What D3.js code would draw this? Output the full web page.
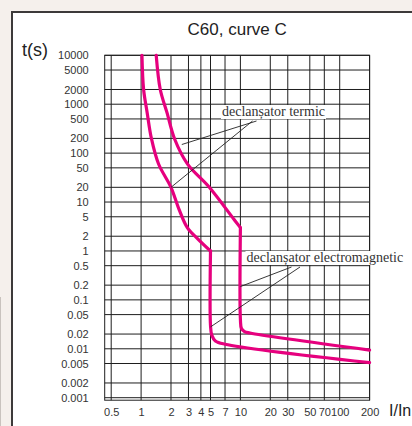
<!DOCTYPE html>
<html>
<head>
<meta charset="utf-8">
<script src="https://cdn.jsdelivr.net/npm/d3@7"></script>
<style>
html, body { margin: 0; padding: 0; background: #f5f0ec; }
svg { display: block; }
</style>
</head>
<body>
<svg width="412" height="426"></svg>
<script>
// axis ticks (grid lines) and their labels
var xTicks  = [0.5, 1, 2, 3, 4, 5, 7, 10, 20, 30, 50, 70, 100, 200];
var xLabels = ["0.5", "1", "2", "3", "4", "5", "7", "10", "20", "30", "50", "70", "100", "200"];
var yTicks  = [10000, 5000, 2000, 1000, 500, 200, 100, 50, 20, 10, 5, 2, 1,
               0.5, 0.2, 0.1, 0.05, 0.02, 0.01, 0.005, 0.002, 0.001];
var yLabels = ["10000", "5000", "2000", "1000", "500", "200", "100", "50", "20", "10", "5", "2", "1",
               "0.5", "0.2", "0.1", "0.05", "0.02", "0.01", "0.005", "0.002", "0.001"];

// tripping curves, [I/In, t(s)]
var lowThermal   = [[1.02, 10000], [1.06, 2000], [1.15, 680], [1.27, 200], [1.5, 60], [2, 20],
                    [2.41, 7.1], [2.92, 3], [3.76, 1.73], [5, 1]];
var lowMagnetic  = [[5, 1], [5, 0.03], [5.15, 0.019], [5.6, 0.0145], [7, 0.0124], [200, 0.0052]];
var highThermal  = [[1.42, 10000], [1.56, 2000], [1.82, 680], [2.18, 192], [2.95, 59],
                    [4.77, 21], [8.6, 4.45], [10, 3]];
var highMagnetic = [[10, 3], [10, 0.04], [10.25, 0.026], [11, 0.0225], [12.5, 0.021], [200, 0.0094]];

// annotations and the curve points their leaders point at
var noteTexts   = ["declanșator termic", "declanșator electromagnetic"];
var noteTargets = [[[2, 20], [2.57, 150]], [[10, 0.187], [5, 0.028]]];

var svg = d3.select("svg");

// page frame
svg.append("rect").attr("x", 12).attr("y", 12).attr("width", 400).attr("height", 414).attr("fill", "#fff");
svg.append("path").attr("d", "M12,426V12H412").attr("fill", "none")
  .attr("stroke", "#3d3a3a").attr("stroke-width", 2);
svg.append("line").attr("x1", 0.5).attr("x2", 0.5).attr("y1", 297).attr("y2", 426)
  .attr("stroke", "#c9c3be");

var x = d3.scaleLog().domain([0.5, 200]).range([111.2, 369.6]);
var y = d3.scaleLog().domain([0.001, 10000]).range([397.7, 55.3]);

var plotL = x(0.5) - 6.5, plotR = x(200), plotT = y(10000), plotB = y(0.001) + 2.5;

// grid
var grid = svg.append("g").attr("stroke", "#1e1e1e").attr("stroke-width", 1);
grid.selectAll(".v").data(xTicks).enter().append("line")
  .attr("x1", d => x(d)).attr("x2", d => x(d)).attr("y1", plotT).attr("y2", plotB);
grid.selectAll(".h").data(yTicks).enter().append("line")
  .attr("x1", plotL).attr("x2", plotR).attr("y1", d => y(d)).attr("y2", d => y(d));
grid.append("rect").attr("x", plotL).attr("y", plotT)
  .attr("width", plotR - plotL).attr("height", plotB - plotT).attr("fill", "none");

// axes (labels only)
var yAxis = d3.axisLeft(y).tickValues(yTicks).tickSize(0).tickPadding(16)
  .tickFormat(d => yLabels[yTicks.indexOf(d)]);
var xAxis = d3.axisBottom(x).tickValues(xTicks).tickSize(0).tickPadding(8)
  .tickFormat(d => xLabels[xTicks.indexOf(d)]);

var gY = svg.append("g").attr("transform", "translate(" + plotL + ",0)").call(yAxis);
var gX = svg.append("g").attr("transform", "translate(0," + plotB + ")").call(xAxis);
[gX, gY].forEach(g => {
  g.select(".domain").remove();
  g.selectAll("text").attr("font-family", "Liberation Sans, Arial, sans-serif")
    .attr("font-size", 11).attr("fill", "#333");
});

// curves
var line = d3.line().x(d => x(d[0])).y(d => y(d[1])).curve(d3.curveCatmullRom.alpha(0.5));
[lowThermal, lowMagnetic, highThermal, highMagnetic].forEach(c => {
  svg.append("path").datum(c).attr("d", line)
    .attr("fill", "none").attr("stroke", "#e6007e").attr("stroke-width", 3.2)
    .attr("stroke-linejoin", "round").attr("stroke-linecap", "round");
});

// annotations: label position, leader start offsets
var notePos = [[273.5, 116, "middle"], [246.5, 262, "start"]];
var leadStart = [[[-21, 5], [-17, 5]], [[45, 5], [53.5, 5]]];

noteTexts.forEach((t, i) => {
  var g = svg.append("g");
  var box = g.append("rect").attr("fill", "#fff");
  var txt = g.append("text").attr("x", notePos[i][0]).attr("y", notePos[i][1])
    .attr("text-anchor", notePos[i][2])
    .attr("font-family", "Liberation Serif, Times New Roman, serif")
    .attr("font-size", 14).attr("fill", "#333").text(t);
  var bb = txt.node().getBBox();
  box.attr("x", bb.x - 1).attr("y", bb.y + 1).attr("width", bb.width + 2).attr("height", bb.height - 2);
  var x0 = i == 0 ? notePos[i][0] : bb.x;
  noteTargets[i].forEach((p, j) => {
    svg.append("line")
      .attr("x1", x0 + leadStart[i][j][0]).attr("y1", notePos[i][1] + leadStart[i][j][1])
      .attr("x2", x(p[0])).attr("y2", y(p[1]))
      .attr("stroke", "#222").attr("stroke-width", 0.9);
  });
});

// titles
svg.append("text").attr("x", (plotL + plotR) / 2).attr("y", 35).attr("text-anchor", "middle")
  .attr("font-family", "Liberation Sans, Arial, sans-serif").attr("font-size", 17)
  .attr("fill", "#222").text("C60, curve C");
svg.append("text").attr("x", 22).attr("y", 56)
  .attr("font-family", "Liberation Sans, Arial, sans-serif").attr("font-size", 18)
  .attr("fill", "#222").text("t(s)");
svg.append("text").attr("x", 389).attr("y", 416)
  .attr("font-family", "Liberation Sans, Arial, sans-serif").attr("font-size", 16)
  .attr("fill", "#222").text("I/In");
</script>
</body>
</html>
